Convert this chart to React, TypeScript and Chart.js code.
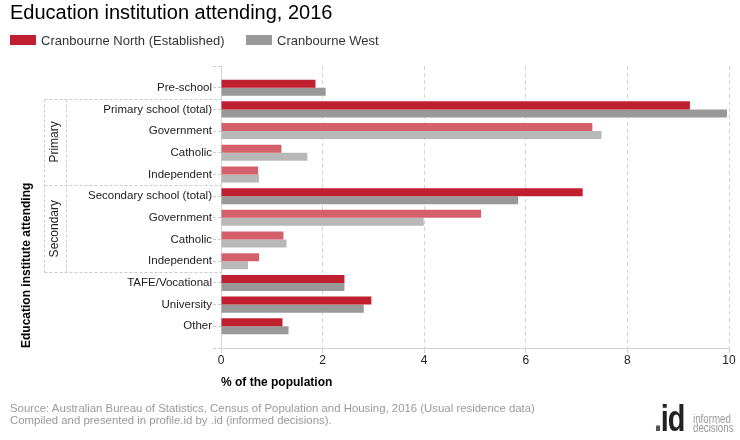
import React, { useEffect, useRef } from 'react';
import { Chart, registerables } from 'chart.js';

Chart.register(...registerables);

// ---- data ----
const chartTitle = 'Education institution attending, 2016';
const categories = [
  'Pre-school',
  'Primary school (total)',
  'Government',
  'Catholic',
  'Independent',
  'Secondary school (total)',
  'Government',
  'Catholic',
  'Independent',
  'TAFE/Vocational',
  'University',
  'Other',
];
// 0 = main category, 1 = sub-category of a group
const categoryLevel = [0, 0, 1, 1, 1, 0, 1, 1, 1, 0, 0, 0];
const groups = [
  { label: 'Primary', first: 1, last: 4 },
  { label: 'Secondary', first: 5, last: 8 },
];
const seriesNames = ['Cranbourne North (Established)', 'Cranbourne West'];
const cranbourneNorth = [1.86, 9.23, 7.31, 1.19, 0.73, 7.12, 5.12, 1.23, 0.75, 2.43, 2.96, 1.21];
const cranbourneWest = [2.06, 9.96, 7.49, 1.70, 0.75, 5.85, 3.99, 1.29, 0.53, 2.43, 2.81, 1.33];
const xTicks = [0, 2, 4, 6, 8, 10];
const xAxisTitle = '% of the population';
const yAxisTitle = 'Education institute attending';
const sourceLines = [
  'Source: Australian Bureau of Statistics, Census of Population and Housing, 2016 (Usual residence data)',
  'Compiled and presented in profile.id by .id (informed decisions).',
];

// ---- styles ----
const FONT = '"Liberation Sans", Arial, Helvetica, sans-serif';
const RED = '#C01F2F';
const RED_LIGHT = '#D4606B';
const GREY = '#999999';
const GREY_LIGHT = '#B8B8B8';
const GRID = '#d4d4d4';

const groupPlugin = {
  id: 'groupBoxes',
  afterDraw(chart: any) {
    const y = chart.scales.y;
    const ctx = chart.ctx as CanvasRenderingContext2D;
    const area = chart.chartArea;
    const step = y.getPixelForValue(2) - y.getPixelForValue(1);
    const xOuter = 44.5;
    const xInner = 66.5;
    const xEnd = area.left;
    ctx.save();
    ctx.strokeStyle = '#cccccc';
    ctx.lineWidth = 1;
    ctx.setLineDash([3, 2]);
    let top = Infinity;
    let bottom = -Infinity;
    const lines: number[] = [];
    groups.forEach((g) => {
      const t = Math.round(y.getPixelForValue(g.first + 1) - step / 2) + 0.5;
      const b = Math.round(y.getPixelForValue(g.last + 1) + step / 2) + 0.5;
      top = Math.min(top, t);
      bottom = Math.max(bottom, b);
      lines.push(t, b);
    });
    const uniq = Array.from(new Set(lines));
    uniq.forEach((ly) => {
      ctx.beginPath();
      ctx.moveTo(xOuter, ly);
      ctx.lineTo(xEnd, ly);
      ctx.stroke();
    });
    [xOuter, xInner].forEach((lx) => {
      ctx.beginPath();
      ctx.moveTo(lx, top);
      ctx.lineTo(lx, bottom);
      ctx.stroke();
    });
    ctx.setLineDash([]);
    ctx.fillStyle = '#222';
    ctx.font = `12px ${FONT}`;
    ctx.textAlign = 'center';
    ctx.textBaseline = 'middle';
    groups.forEach((g) => {
      const t = y.getPixelForValue(g.first + 1) - step / 2;
      const b = y.getPixelForValue(g.last + 1) + step / 2;
      ctx.save();
      ctx.translate(55, (t + b) / 2);
      ctx.rotate(-Math.PI / 2);
      ctx.fillText(g.label, 0, 0);
      ctx.restore();
    });
    ctx.restore();
  },
};

export default function App() {
  const canvasRef = useRef<HTMLCanvasElement | null>(null);

  useEffect(() => {
    const canvas = canvasRef.current;
    if (!canvas) return;
    const labels = ['', ...categories, ''];
    const pad = (arr: any[]) => [null, ...arr, null];
    const northColors = pad(categoryLevel.map((l) => (l === 0 ? RED : RED_LIGHT)));
    const westColors = pad(categoryLevel.map((l) => (l === 0 ? GREY : GREY_LIGHT)));

    const chart = new Chart(canvas, {
      type: 'bar',
      data: {
        labels,
        datasets: [
          {
            label: seriesNames[0],
            data: pad(cranbourneNorth),
            backgroundColor: northColors as any,
            categoryPercentage: 0.74,
            barPercentage: 1,
          },
          {
            label: seriesNames[1],
            data: pad(cranbourneWest),
            backgroundColor: westColors as any,
            categoryPercentage: 0.74,
            barPercentage: 1,
          },
        ],
      },
      options: {
        indexAxis: 'y',
        responsive: false,
        maintainAspectRatio: false,
        devicePixelRatio: 1,
        animation: false,
        layout: { padding: { top: 66, left: 0, right: 11, bottom: 42 } },
        plugins: {
          legend: { display: false },
          title: { display: false },
          tooltip: { enabled: false },
        },
        scales: {
          x: {
            type: 'linear',
            position: 'bottom',
            min: 0,
            max: 10,
            afterBuildTicks: (scale: any) => {
              scale.ticks = xTicks.map((v) => ({ value: v }));
            },
            afterFit: (scale: any) => {
              scale.height = 50;
            },
            ticks: {
              color: '#222',
              padding: 0,
              font: { family: FONT, size: 12 },
              maxRotation: 0,
            },
            grid: {
              color: GRID,
              tickColor: GRID,
              tickLength: 5,
              tickBorderDash: [4, 3],
            },
            border: { display: true, color: GRID, dash: [4, 3] },
            title: {
              display: true,
              text: xAxisTitle,
              align: 'start',
              color: '#000',
              font: { family: FONT, size: 12, weight: 'bold' },
              padding: { top: 0, bottom: 8 },
            },
          },
          y: {
            type: 'category',
            position: 'left',
            offset: false,
            afterFit: (scale: any) => {
              scale.width = 221;
            },
            ticks: {
              color: '#222',
              padding: 1,
              autoSkip: false,
              font: { family: FONT, size: 11.5 },
            },
            grid: {
              offset: false,
              drawOnChartArea: false,
              tickLength: 8,
              tickColor: '#cccccc',
              tickBorderDash: [3, 2],
            },
            border: { display: true, color: GRID },
            title: {
              display: true,
              text: yAxisTitle,
              align: 'start',
              color: '#000',
              font: { family: FONT, size: 12, weight: 'bold' },
              padding: { top: 19, bottom: 0 },
            },
          },
        },
      },
      plugins: [groupPlugin],
    } as any);

    return () => {
      chart.destroy();
    };
  }, []);

  const abs = (s: React.CSSProperties): React.CSSProperties => ({ position: 'absolute', whiteSpace: 'nowrap', ...s });

  return (
    <div style={{ position: 'fixed', left: 0, top: 0, width: 740, height: 440, background: '#fff', fontFamily: FONT, overflow: 'hidden' }}>
      <canvas ref={canvasRef} width={740} height={440} style={{ position: 'absolute', left: 0, top: 0, width: 740, height: 440 }} />
      <div style={abs({ left: 10, top: 2, fontSize: 20, lineHeight: '20px', color: '#000' })}>{chartTitle}</div>
      <div style={abs({ left: 10, top: 35, width: 26, height: 10, background: RED })} />
      <div style={abs({ left: 41, top: 34, fontSize: 13, lineHeight: '13px', color: '#333' })}>{seriesNames[0]}</div>
      <div style={abs({ left: 246, top: 35, width: 26, height: 10, background: GREY })} />
      <div style={abs({ left: 277, top: 34, fontSize: 13, lineHeight: '13px', color: '#333' })}>{seriesNames[1]}</div>
      <div style={abs({ left: 10, top: 402.3, fontSize: 11.4, lineHeight: '12px', color: '#999' })}>{sourceLines[0]}</div>
      <div style={abs({ left: 10, top: 414.3, fontSize: 11.4, lineHeight: '12px', color: '#999' })}>{sourceLines[1]}</div>
      <div
        style={abs({
          left: 654,
          top: 400.4,
          fontSize: 37,
          lineHeight: '37px',
          fontWeight: 'bold',
          letterSpacing: -1.5,
          transform: 'scaleX(0.78)',
          transformOrigin: 'left top',
        })}
      >
        <span style={{ color: '#555' }}>.</span>
        <span style={{ color: '#222' }}>id</span>
      </div>
      <div
        style={abs({
          left: 693,
          top: 415,
          fontSize: 12,
          lineHeight: '8.5px',
          color: '#999',
          transform: 'scaleX(0.81)',
          transformOrigin: 'left top',
        })}
      >
        informed
        <br />
        decisions
      </div>
    </div>
  );
}
